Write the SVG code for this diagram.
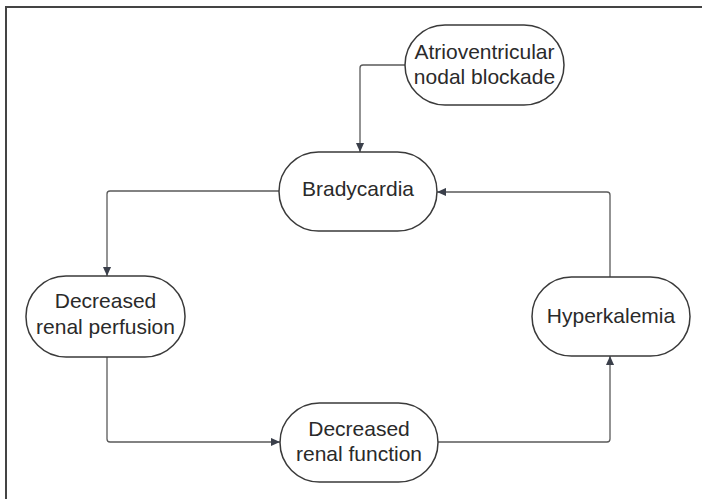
<svg xmlns="http://www.w3.org/2000/svg" width="702" height="499" viewBox="0 0 702 499">
<defs>
<style>
.node rect{fill:#fff;stroke:#3a3a3a;stroke-width:1.5}
.node text{font-family:"Liberation Sans",Arial,sans-serif;font-size:21px;fill:#2a2a2a;text-anchor:middle}
.conn path{fill:none;stroke:#5a5a5a;stroke-width:1.3}
</style>
<marker id="ah" viewBox="0 0 10 10" refX="10" refY="5" markerWidth="9" markerHeight="9" markerUnits="userSpaceOnUse" orient="auto">
<path d="M0,0.5 L10,5 L0,9.5 Z" fill="#3a3f4a"/>
</marker>
</defs>
<rect width="702" height="499" fill="#fff"/>
<path d="M6,499 V7 H702" fill="none" stroke="#444" stroke-width="2"/>
<g class="conn">
<path d="M405,65 H363 Q360,65 360,68 V152" marker-end="url(#ah)"/>
<path d="M279,191 H110 Q107,191 107,194 V276" marker-end="url(#ah)"/>
<path d="M107,357 V439 Q107,442 110,442 H280" marker-end="url(#ah)"/>
<path d="M438,442 H607 Q610,442 610,439 V356" marker-end="url(#ah)"/>
<path d="M610,277 V195 Q610,192 607,192 H437" marker-end="url(#ah)"/>
</g>
<g id="av" class="node">
<rect x="405" y="25" width="159" height="80" rx="40"/>
<text x="484.5" y="59">Atrioventricular</text>
<text x="484.5" y="84">nodal blockade</text>
</g>
<g id="brady" class="node">
<rect x="279" y="152" width="158" height="79" rx="39.5"/>
<text x="358" y="196">Bradycardia</text>
</g>
<g id="perf" class="node">
<rect x="26" y="276" width="159" height="81" rx="40"/>
<text x="105.5" y="308">Decreased</text>
<text x="105.5" y="334">renal perfusion</text>
</g>
<g id="func" class="node">
<rect x="280" y="403" width="158" height="79" rx="39.5"/>
<text x="359" y="436">Decreased</text>
<text x="359" y="461">renal function</text>
</g>
<g id="hyper" class="node">
<rect x="532" y="277" width="158" height="79" rx="39.5"/>
<text x="611" y="323">Hyperkalemia</text>
</g>
</svg>
